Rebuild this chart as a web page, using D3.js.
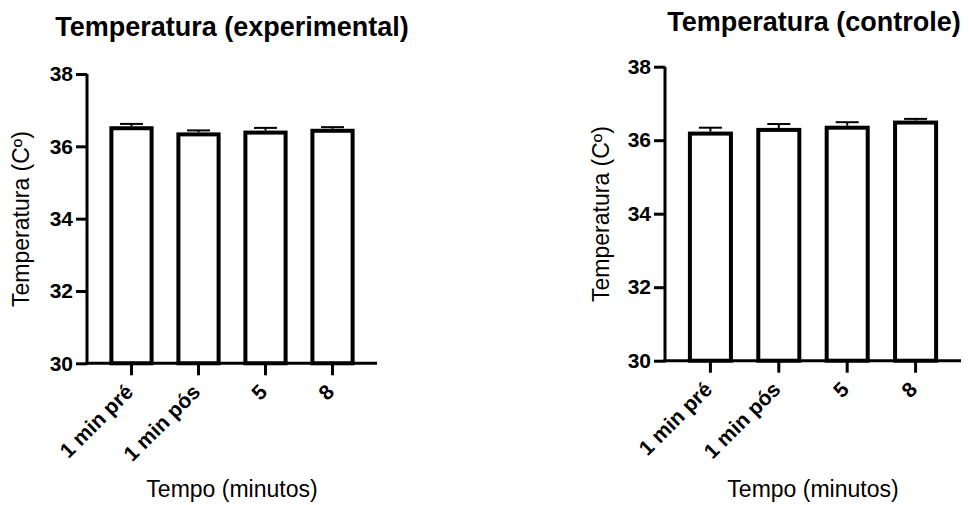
<!DOCTYPE html>
<html>
<head>
<meta charset="utf-8">
<script src="https://cdn.jsdelivr.net/npm/d3@7"></script>
<style>
  html, body { margin: 0; padding: 0; background: #fff; }
  svg { display: block; font-family: "Liberation Sans", Arial, Helvetica, sans-serif; }
</style>
</head>
<body>
<svg id="chart" width="969" height="505"></svg>
<script>
// ---- data ----
const categories = ["1 min pré", "1 min pós", "5", "8"];
const expMeans = [36.50, 36.33, 36.38, 36.43];
const expSEM   = [0.12, 0.11, 0.13, 0.10];
const ctrlMeans = [36.18, 36.28, 36.34, 36.48];
const ctrlSEM   = [0.16, 0.16, 0.15, 0.10];
const yTicks = [30, 32, 34, 36, 38];
const titles = ["Temperatura (experimental)", "Temperatura (controle)"];
const yLabel = "Temperatura (Cº)";
const xLabel = "Tempo (minutos)";

const svg = d3.select("#chart");

function panel(cfg) {
  const g = svg.append("g");
  const x = d3.scaleBand().domain(categories).range([cfg.x0, cfg.x1]).paddingInner(0.4).paddingOuter(0.364);
  const y = d3.scaleLinear().domain([30, 38]).range([cfg.yBottom, cfg.yTop]);

  // bars
  g.selectAll("rect.bar").data(cfg.means).join("rect")
    .attr("class", "bar")
    .attr("x", (d, i) => x(categories[i]))
    .attr("width", x.bandwidth())
    .attr("y", d => y(d))
    .attr("height", d => y(30) - y(d))
    .attr("fill", "#fff").attr("stroke", "#000").attr("stroke-width", 4);

  // error bars (upper only)
  const eb = g.selectAll("g.eb").data(cfg.means).join("g").attr("class", "eb");
  eb.append("line")
    .attr("x1", (d, i) => x(categories[i]) + x.bandwidth() / 2)
    .attr("x2", (d, i) => x(categories[i]) + x.bandwidth() / 2)
    .attr("y1", d => y(d) - 2)
    .attr("y2", (d, i) => y(d + cfg.sem[i]))
    .attr("stroke", "#000").attr("stroke-width", 2);
  eb.append("line")
    .attr("x1", (d, i) => x(categories[i]) + x.bandwidth() / 2 - 11.5)
    .attr("x2", (d, i) => x(categories[i]) + x.bandwidth() / 2 + 11.5)
    .attr("y1", (d, i) => y(d + cfg.sem[i]))
    .attr("y2", (d, i) => y(d + cfg.sem[i]))
    .attr("stroke", "#000").attr("stroke-width", 2);

  // y axis
  const ya = g.append("g").attr("transform", `translate(${cfg.x0},0)`)
    .call(d3.axisLeft(y).tickValues(yTicks).tickSize(11).tickPadding(3).tickFormat(d3.format("d")));
  ya.select(".domain").attr("stroke-width", 3).attr("d", `M0,${cfg.yTop}V${cfg.yBottom + 1.5}`);
  ya.selectAll(".tick line").attr("stroke-width", 3);
  ya.selectAll(".tick text").attr("font-size", 21).attr("font-weight", "bold").attr("fill", "#000")
    .attr("font-family", "Liberation Sans, Arial, sans-serif");

  // x axis
  const xa = g.append("g").attr("transform", `translate(0,${cfg.yBottom})`)
    .call(d3.axisBottom(x).tickSize(12).tickPadding(0));
  xa.select(".domain").attr("stroke-width", 3).attr("d", `M${cfg.x0 - 1.5},0H${cfg.x1}`);
  xa.selectAll(".tick line").attr("stroke-width", 3);
  xa.selectAll(".tick text")
    .attr("font-size", 21).attr("font-weight", "bold").attr("fill", "#000")
    .attr("font-family", "Liberation Sans, Arial, sans-serif")
    .attr("text-anchor", "end").attr("dy", null).attr("y", null)
    .attr("transform", "translate(3,30) rotate(-45)");

  // titles
  g.append("text").attr("x", cfg.titleX).attr("y", cfg.titleY)
    .attr("text-anchor", "middle").attr("font-size", 27).attr("font-weight", "bold")
    .text(cfg.title);
  g.append("text")
    .attr("transform", `translate(${cfg.yLabX},${cfg.yLabY}) rotate(-90)`)
    .attr("text-anchor", "middle").attr("font-size", 23)
    .text(yLabel);
  g.append("text").attr("x", cfg.xLabX).attr("y", 497)
    .attr("text-anchor", "middle").attr("font-size", 23)
    .text(xLabel);
}

panel({ x0: 87, x1: 377, yTop: 74, yBottom: 363.3, means: expMeans, sem: expSEM,
        title: titles[0], titleX: 232, titleY: 36, yLabX: 29, yLabY: 219, xLabX: 232 });
panel({ x0: 665, x1: 961, yTop: 66.7, yBottom: 360.7, means: ctrlMeans, sem: ctrlSEM,
        title: titles[1], titleX: 814, titleY: 30.5, yLabX: 608.5, yLabY: 214, xLabX: 813 });
</script>
</body>
</html>
